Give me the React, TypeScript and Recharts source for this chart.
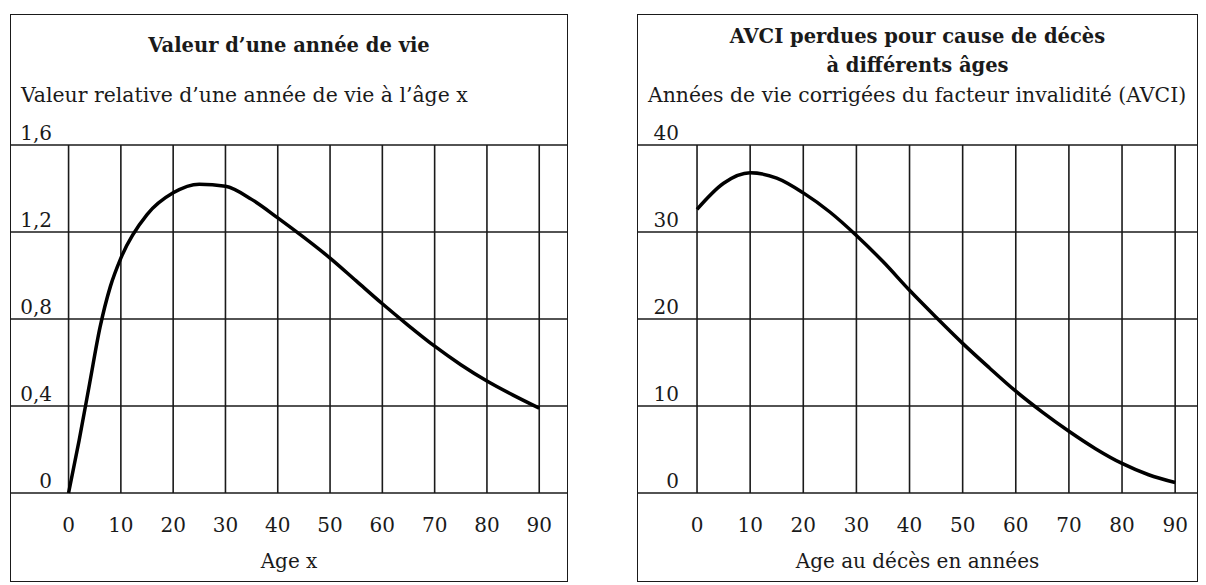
import React from "react";
import { LineChart, Line, XAxis, YAxis, CartesianGrid } from "recharts";

const ageTicks = [0, 10, 20, 30, 40, 50, 60, 70, 80, 90];

// left panel: value of one year of life
const valueAges = [0, 2, 4, 6, 8, 10, 15, 20, 25, 30, 35, 40, 45, 50, 55, 60, 65, 70, 75, 80, 85, 90];
const valueOfYear = [0, 0.24, 0.5, 0.76, 0.95, 1.08, 1.28, 1.38, 1.42, 1.41, 1.35, 1.265, 1.175, 1.08, 0.975, 0.87, 0.77, 0.675, 0.59, 0.515, 0.45, 0.39];
const valueTicks = [0, 0.4, 0.8, 1.2, 1.6];

// right panel: DALYs lost by age at death
const dalyAges = [0, 5, 10, 15, 20, 25, 30, 35, 40, 45, 50, 55, 60, 65, 70, 75, 80, 85, 90];
const dalyLost = [32.6, 35.6, 36.8, 36.2, 34.5, 32.3, 29.6, 26.6, 23.3, 20.2, 17.2, 14.4, 11.7, 9.3, 7.1, 5.1, 3.4, 2.1, 1.2];
const dalyTicks = [0, 10, 20, 30, 40];

const leftData = valueAges.map((age, i) => ({ age, v: valueOfYear[i] }));
const rightData = dalyAges.map((age, i) => ({ age, v: dalyLost[i] }));

const FONT = '"DejaVu Serif", "Liberation Serif", serif';
const INK = "#1a1a1a";
const FS = 20;

interface PanelProps {
  left: number;
  width: number;
  data: { age: number; v: number }[];
  xDomain: [number, number];
  yTicks: number[];
  fmt: (v: number) => string;
  title: string[];
  subtitle: string;
  xLabel: string;
}

function Panel({ left, width, data, xDomain, yTicks, fmt, title, subtitle, xLabel }: PanelProps) {
  const top = 14;
  const height = 568;
  return (
    <div style={{ position: "absolute", left, top, width, height, fontFamily: FONT, color: INK }}>
      <LineChart
        width={width}
        height={height}
        data={data}
        margin={{ top: 131, right: 0, bottom: 0, left: -1 }}
      >
        <CartesianGrid stroke={INK} strokeWidth={1.6} />
        <XAxis
          dataKey="age"
          type="number"
          domain={xDomain}
          ticks={ageTicks}
          allowDataOverflow
          axisLine={false}
          tickLine={false}
          tickSize={0}
          tickMargin={0}
          height={89}
          interval={0}
          tick={(p: any) => (
            <text x={p.x} y={p.y + 39} textAnchor="middle" fontSize={FS} fontFamily={FONT} fill={INK}>
              {p.payload.value}
            </text>
          )}
        />
        <YAxis
          type="number"
          domain={[yTicks[0], yTicks[yTicks.length - 1]]}
          ticks={yTicks}
          width={1}
          interval={0}
          axisLine={false}
          tickLine={false}
          tickSize={0}
          tickMargin={0}
          tick={(p: any) => (
            <text x={42} y={p.y - 5} textAnchor="end" fontSize={FS} fontFamily={FONT} fill={INK}>
              {fmt(p.payload.value)}
            </text>
          )}
        />
        <Line
          type="monotone"
          dataKey="v"
          stroke="#000"
          strokeWidth={3.5}
          dot={false}
          isAnimationActive={false}
        />
      </LineChart>
      <div
        style={{
          position: "absolute",
          left: 0,
          top: 0,
          width,
          height,
          boxSizing: "border-box",
          border: `1.6px solid ${INK}`,
          pointerEvents: "none",
        }}
      />
      <div
        style={{
          position: "absolute",
          left: 0,
          width,
          top: title.length > 1 ? 8 : 17,
          textAlign: "center",
          fontWeight: "bold",
          fontSize: 19.5,
          lineHeight: "29px",
        }}
      >
        {title.map((t) => (
          <div key={t}>{t}</div>
        ))}
      </div>
      <div style={{ position: "absolute", left: 11, top: 69, fontSize: 20.4, whiteSpace: "nowrap" }}>
        {subtitle}
      </div>
      <div style={{ position: "absolute", left: 0, width, top: 535, textAlign: "center", fontSize: FS }}>
        {xLabel}
      </div>
    </div>
  );
}

export default function App() {
  return (
    <div style={{ position: "absolute", left: 0, top: 0, width: 1206, height: 585, background: "#fff" }}>
      <Panel
        left={10}
        width={558}
        data={leftData}
        xDomain={[-11.2, 95.5]}
        yTicks={valueTicks}
        fmt={(v) => (v === 0 ? "0" : v.toFixed(1).replace(".", ","))}
        title={["Valeur d\u2019une année de vie"]}
        subtitle={"Valeur relative d\u2019une année de vie à l\u2019âge x"}
        xLabel="Age x"
      />
      <Panel
        left={637}
        width={561}
        data={rightData}
        xDomain={[-11.3, 94.3]}
        yTicks={dalyTicks}
        fmt={(v) => String(v)}
        title={["AVCI perdues pour cause de décès", "à différents âges"]}
        subtitle="Années de vie corrigées du facteur invalidité (AVCI)"
        xLabel="Age au décès en années"
      />
    </div>
  );
}
